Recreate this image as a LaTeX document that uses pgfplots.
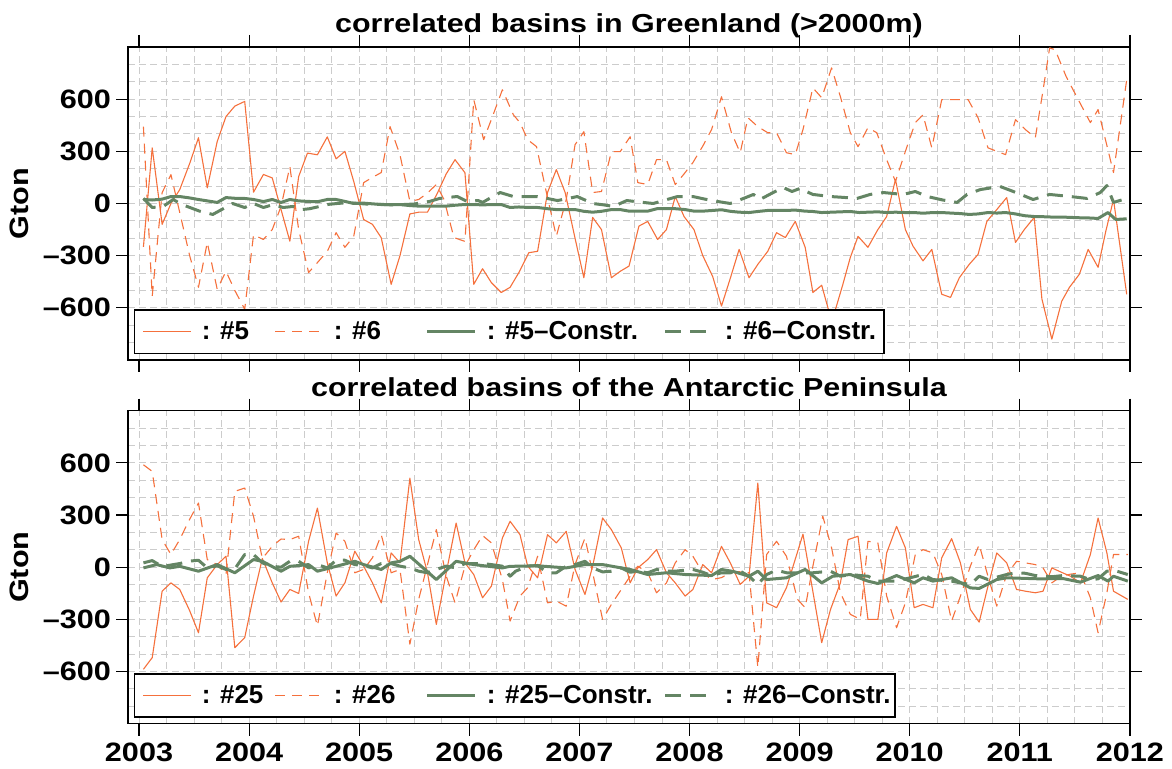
\documentclass[border=0pt]{standalone}
\usepackage{fontspec}
\usepackage{pgfplots}
\pgfplotsset{compat=1.18}
\setmainfont{Liberation Sans}
\newfontfamily\widesans{Liberation Sans}[FakeStretch=1.15]
\newfontfamily\titlesans{Liberation Sans}[FakeStretch=1.17]
\newcommand\tickfont{\widesans\bfseries\fontsize{13.3}{16}\selectfont}
\newcommand\titlefont{\titlesans\bfseries\fontsize{13}{16}\selectfont}
\newcommand\legfont{\normalfont\bfseries\fontsize{13}{15}\selectfont}

\definecolor{corg}{RGB}{245,112,60}
\definecolor{cgrn}{RGB}{100,133,100}

\pgfplotsset{
  panel/.style={
    scale only axis, width=501pt, height=156.5pt,
    xmin=2002.9, xmax=2012, ymin=-900, ymax=900,
    xtick={2003,...,2012},
    ytick={-600,-300,0,300,600},
    yticklabels={–600,–300,0,300,600},
    minor xtick={2003.25,2003.5,2003.75,2004.25,2004.5,2004.75,2005.25,2005.5,2005.75,
      2006.25,2006.5,2006.75,2007.25,2007.5,2007.75,2008.25,2008.5,2008.75,
      2009.25,2009.5,2009.75,2010.25,2010.5,2010.75,2011.25,2011.5,2011.75},
    minor ytick={-800,-700,-500,-400,-200,-100,100,200,400,500,700,800},
    grid=both,
    grid style={gray!40, line width=0.5pt, dash pattern=on 3.5pt off 2pt},
    tick align=outside, tick pos=both,
    xticklabel pos=lower, yticklabel pos=left,
    major tick length=6pt, minor tick length=0pt,
    major tick style={black, line width=0.6pt},
    axis line style={black, line width=0.6pt},
    tick label style={font=\tickfont},
    yticklabel style={xshift=1pt},
    ylabel={Gton}, ylabel style={font=\tickfont},
    every axis title/.style={font=\titlefont, at={(0.5,1)}, anchor=base, yshift=7pt},
    legend columns=4,
    legend style={at={(0,0)}, anchor=south west, xshift=3pt, yshift=3pt,
      draw=black, line width=0.7pt, font=\legfont, fill=white,
      inner xsep=4pt, inner ysep=5.5pt, column sep=0pt,
      nodes={inner sep=0pt}},
    legend image code/.code={\draw[#1] (0pt,0pt) -- (24pt,0pt);},
  },
  s5/.style={color=corg, line width=0.55pt, line join=round},
  s6/.style={color=corg, line width=0.55pt, line join=round, dash pattern=on 5pt off 3.5pt},
  c5/.style={color=cgrn, line width=1.5pt, line join=round},
  c6/.style={color=cgrn, line width=1.5pt, line join=round, dash pattern=on 8pt off 4.5pt},
}

\begin{document}
\begin{tikzpicture}[font=\tickfont]
\begin{axis}[panel, name=top, xticklabels={},
  title={correlated basins in Greenland (>2000m)}]

\addplot[s5] coordinates {
(2003.04,-250)(2003.12,320)(2003.21,-120)(2003.29,0)(2003.37,80)(2003.46,230)(2003.54,378)(2003.62,90)(2003.71,356)(2003.79,500)(2003.87,560)(2003.96,587)
(2004.04,65)(2004.13,167)(2004.21,147)(2004.29,-35)(2004.37,-217)(2004.45,155)(2004.53,290)(2004.62,280)(2004.71,383)(2004.79,257)(2004.87,300)(2004.95,127)
(2005.04,-92)(2005.12,-120)(2005.20,-197)(2005.29,-465)(2005.37,-300)(2005.46,-60)(2005.54,-50)(2005.62,-50)(2005.71,60)(2005.79,170)(2005.87,252)(2005.96,177)
(2006.04,-465)(2006.12,-375)(2006.20,-455)(2006.29,-512)(2006.37,-482)(2006.45,-397)(2006.54,-283)(2006.62,-275)(2006.71,63)(2006.79,195)(2006.87,63)(2006.96,-200)
(2007.04,-427)(2007.12,-80)(2007.20,-150)(2007.29,-427)(2007.37,-390)(2007.45,-360)(2007.54,-130)(2007.62,-103)(2007.71,-207)(2007.79,-150)(2007.87,40)(2007.95,-75)
(2008.04,-150)(2008.12,-300)(2008.21,-420)(2008.29,-590)(2008.37,-430)(2008.45,-264)(2008.54,-427)(2008.62,-350)(2008.71,-275)(2008.79,-168)(2008.87,-196)(2008.96,-103)
(2009.05,-252)(2009.12,-512)(2009.20,-470)(2009.26,-608)(2009.32,-620)(2009.39,-470)(2009.46,-310)(2009.53,-189)(2009.62,-252)(2009.71,-150)(2009.79,-75)(2009.87,138)(2009.96,-150)
(2010.03,-246)(2010.12,-330)(2010.20,-264)(2010.29,-522)(2010.37,-540)(2010.45,-427)(2010.54,-350)(2010.62,-293)(2010.70,-103)(2010.79,-35)(2010.88,34)(2010.96,-224)
(2011.04,-150)(2011.13,-80)(2011.20,-550)(2011.29,-780)(2011.38,-562)(2011.45,-482)(2011.54,-407)(2011.62,-264)(2011.71,-367)(2011.78,-160)(2011.85,23)(2011.97,-522)
};
\addlegendentry{\makebox[41.5pt][l]{\hspace{5pt}: \#5}}

\addplot[s6] coordinates {
(2003.04,442)(2003.12,-533)(2003.21,63)(2003.29,166)(2003.37,-52)(2003.46,-300)(2003.54,-482)(2003.62,-224)(2003.71,-493)(2003.79,-390)(2003.87,-500)(2003.96,-608)
(2004.04,-180)(2004.13,-207)(2004.21,-150)(2004.29,-17)(2004.37,212)(2004.45,-150)(2004.54,-397)(2004.62,-340)(2004.71,-275)(2004.79,-168)(2004.87,-252)(2004.95,-189)
(2005.04,120)(2005.12,150)(2005.20,178)(2005.28,442)(2005.37,280)(2005.46,12)(2005.54,23)(2005.62,60)(2005.70,109)(2005.77,23)(2005.86,-196)(2005.96,-218)
(2006.04,597)(2006.13,367)(2006.21,500)(2006.30,654)(2006.40,510)(2006.46,465)(2006.53,367)(2006.61,327)(2006.70,63)(2006.79,-189)(2006.88,23)(2006.96,338)
(2007.04,413)(2007.12,63)(2007.20,69)(2007.29,298)(2007.37,298)(2007.46,384)(2007.53,120)(2007.62,109)(2007.70,252)(2007.79,252)(2007.87,109)(2007.95,170)
(2008.03,235)(2008.12,330)(2008.20,425)(2008.29,614)(2008.38,407)(2008.46,292)(2008.53,493)(2008.62,442)(2008.71,407)(2008.79,407)(2008.88,292)(2008.96,281)
(2009.03,425)(2009.12,665)(2009.20,608)(2009.29,780)(2009.37,614)(2009.46,407)(2009.53,327)(2009.62,436)(2009.70,407)(2009.79,252)(2009.87,127)(2009.96,300)
(2010.05,465)(2010.12,510)(2010.20,320)(2010.29,597)(2010.37,597)(2010.45,597)(2010.53,597)(2010.62,493)(2010.71,320)(2010.79,300)(2010.87,281)(2010.96,482)
(2011.05,425)(2011.14,378)(2011.21,650)(2011.27,895)(2011.32,884)(2011.42,730)(2011.53,597)(2011.64,465)(2011.71,540)(2011.85,178)(2011.97,711)
};
\addlegendentry{\makebox[51pt][l]{\hspace{5pt}: \#6}}

\addplot[c5] coordinates {
(2003.04,23)(2003.12,20)(2003.21,25)(2003.29,40)(2003.37,40)(2003.46,32)(2003.54,23)(2003.62,15)(2003.71,6)(2003.79,34)(2003.87,30)(2003.96,29)
(2004.04,23)(2004.13,11)(2004.21,23)(2004.29,6)(2004.37,23)(2004.45,15)(2004.53,12)(2004.62,10)(2004.71,23)(2004.79,23)(2004.87,12)(2004.95,0)
(2005.04,2)(2005.12,-2)(2005.20,-6)(2005.29,-6)(2005.37,-6)(2005.46,-12)(2005.54,-15)(2005.62,-15)(2005.71,-15)(2005.79,-15)(2005.87,-10)(2005.96,-6)
(2006.04,-6)(2006.12,-8)(2006.21,-6)(2006.29,-6)(2006.37,-23)(2006.45,-20)(2006.54,-23)(2006.62,-23)(2006.71,-30)(2006.79,-35)(2006.87,-35)(2006.96,-35)
(2007.04,-45)(2007.12,-50)(2007.20,-45)(2007.29,-35)(2007.37,-35)(2007.45,-44)(2007.54,-44)(2007.62,-44)(2007.71,-29)(2007.79,-30)(2007.87,-30)(2007.96,-35)
(2008.04,-44)(2008.12,-44)(2008.21,-40)(2008.29,-36)(2008.37,-45)(2008.45,-50)(2008.54,-52)(2008.62,-46)(2008.71,-40)(2008.79,-40)(2008.87,-40)(2008.96,-38)
(2009.05,-44)(2009.12,-46)(2009.20,-52)(2009.29,-50)(2009.37,-48)(2009.46,-46)(2009.54,-52)(2009.62,-50)(2009.71,-48)(2009.79,-52)(2009.87,-50)(2009.96,-52)
(2010.04,-52)(2010.12,-56)(2010.21,-52)(2010.29,-52)(2010.37,-55)(2010.46,-58)(2010.54,-63)(2010.62,-60)(2010.71,-52)(2010.79,-55)(2010.87,-52)(2010.96,-60)
(2011.04,-70)(2011.13,-75)(2011.21,-76)(2011.29,-78)(2011.38,-78)(2011.46,-80)(2011.54,-82)(2011.62,-83)(2011.71,-86)(2011.80,-52)(2011.87,-92)(2011.97,-88)
};
\addlegendentry{\makebox[93.5pt][l]{\hspace{5pt}: \#5–Constr.}}

\addplot[c6] coordinates {
(2003.04,29)(2003.12,-23)(2003.22,-17)(2003.31,23)(2003.39,-6)(2003.47,-25)(2003.55,-44)(2003.67,-63)(2003.75,-35)(2003.85,0)(2003.96,-23)
(2004.04,0)(2004.13,-23)(2004.22,-6)(2004.31,-23)(2004.40,-17)(2004.48,-35)(2004.55,-30)(2004.64,-17)(2004.72,-5)(2004.80,0)(2004.90,5)
(2005.00,0)(2005.10,-5)(2005.20,-5)(2005.30,-8)(2005.40,-6)(2005.50,-3)(2005.57,5)(2005.64,12)(2005.73,29)(2005.81,35)(2005.89,40)(2005.98,12)
(2006.08,17)(2006.12,6)(2006.20,35)(2006.28,63)(2006.40,40)(2006.50,40)(2006.61,40)(2006.70,30)(2006.80,17)(2006.89,28)(2006.98,40)
(2007.05,20)(2007.12,0)(2007.22,-8)(2007.31,-17)(2007.43,17)(2007.55,8)(2007.67,0)(2007.78,20)(2007.89,40)
(2008.03,40)(2008.14,25)(2008.25,12)(2008.37,0)(2008.49,29)(2008.58,52)(2008.64,23)(2008.75,60)(2008.85,92)(2008.93,69)
(2009.00,86)(2009.12,52)(2009.28,40)(2009.40,35)(2009.52,29)(2009.64,52)(2009.76,63)(2009.94,52)
(2010.05,69)(2010.16,40)(2010.30,20)(2010.43,6)(2010.52,52)(2010.64,80)(2010.82,98)(2010.94,69)
(2011.12,23)(2011.27,52)(2011.46,40)(2011.61,29)(2011.73,63)(2011.79,103)(2011.85,6)(2011.97,29)
};
\addlegendentry{\makebox[80.5pt][l]{\hspace{5pt}: \#6–Constr.}}
\end{axis}

\begin{axis}[panel, name=bot, at={(top.south west)}, anchor=north west, yshift=-25.35pt,
  xticklabels={2003,2004,2005,2006,2007,2008,2009,2010,2011,2012},
  title={correlated basins of the Antarctic Peninsula}]

\addplot[s5] coordinates {
(2003.04,-587)(2003.12,-520)(2003.21,-138)(2003.29,-90)(2003.37,-128)(2003.46,-250)(2003.54,-377)(2003.62,-61)(2003.71,15)(2003.79,63)(2003.87,-463)(2003.96,-405)
(2004.04,-166)(2004.12,50)(2004.21,-90)(2004.29,-200)(2004.37,-128)(2004.45,-151)(2004.54,149)(2004.62,340)(2004.71,25)(2004.79,-166)(2004.87,-90)(2004.96,92)
(2005.04,6)(2005.12,-90)(2005.20,-205)(2005.29,82)(2005.37,25)(2005.46,512)(2005.54,159)(2005.62,-32)(2005.70,-329)(2005.79,-32)(2005.88,254)(2005.96,25)
(2006.04,-42)(2006.12,-176)(2006.20,-109)(2006.30,168)(2006.37,264)(2006.46,187)(2006.53,6)(2006.62,-61)(2006.71,187)(2006.79,140)(2006.88,206)(2006.96,-13)
(2007.05,-157)(2007.12,6)(2007.21,283)(2007.29,216)(2007.38,111)(2007.46,-90)(2007.53,-4)(2007.62,44)(2007.70,101)(2007.79,-32)(2007.87,-90)(2007.96,-166)
(2008.03,-128)(2008.12,15)(2008.20,-32)(2008.29,120)(2008.37,25)(2008.46,-99)(2008.54,-52)(2008.62,484)(2008.70,-205)(2008.79,-233)(2008.88,-118)
(2009.03,190)(2009.20,-434)(2009.28,-243)(2009.37,-90)(2009.44,159)(2009.53,178)(2009.62,-300)(2009.71,-300)(2009.79,82)(2009.88,235)(2009.96,111)
(2010.04,-233)(2010.12,-214)(2010.21,-233)(2010.29,54)(2010.38,164)(2010.46,25)(2010.55,-243)(2010.63,-316)(2010.71,-109)(2010.79,82)(2010.88,25)(2010.97,-128)
(2011.05,-138)(2011.14,-147)(2011.21,-138)(2011.29,-4)(2011.38,-30)(2011.46,-52)(2011.55,-90)(2011.64,73)(2011.71,283)(2011.79,82)(2011.85,-138)(2011.98,-185)
};
\addlegendentry{\makebox[41.5pt][l]{\hspace{5pt}: \#25}}

\addplot[s6] coordinates {
(2003.04,589)(2003.12,551)(2003.21,159)(2003.29,73)(2003.37,159)(2003.45,264)(2003.54,369)(2003.62,44)(2003.71,15)(2003.79,-42)(2003.87,436)(2003.96,455)
(2004.04,293)(2004.12,50)(2004.21,120)(2004.29,162)(2004.37,159)(2004.45,178)(2004.54,-147)(2004.62,-338)(2004.71,-32)(2004.79,197)(2004.87,149)(2004.96,-32)
(2005.04,-13)(2005.12,54)(2005.20,187)(2005.29,-32)(2005.37,-13)(2005.46,-443)(2005.54,-185)(2005.70,216)(2005.79,-50)(2005.87,-205)(2005.96,6)
(2006.04,100)(2006.12,182)(2006.20,140)(2006.30,-71)(2006.37,-310)(2006.46,-166)(2006.53,-118)(2006.62,63)(2006.71,-205)(2006.79,-195)(2006.88,-224)(2006.96,15)
(2007.05,168)(2007.12,-32)(2007.21,-300)(2007.29,-214)(2007.38,-128)(2007.46,-52)(2007.53,6)(2007.62,-32)(2007.70,-147)(2007.79,-90)(2007.87,25)(2007.96,101)
(2008.03,63)(2008.12,-32)(2008.20,-71)(2008.29,-60)(2008.37,-32)(2008.46,-25)(2008.54,-32)(2008.62,-577)(2008.70,73)(2008.79,149)(2008.88,63)(2008.98,-185)
(2009.05,-233)(2009.12,6)(2009.21,293)(2009.29,111)(2009.37,-147)(2009.46,-271)(2009.55,-300)(2009.62,149)(2009.71,140)(2009.79,-166)(2009.88,-348)(2009.96,-205)
(2010.05,73)(2010.12,101)(2010.21,82)(2010.29,-42)(2010.38,-310)(2010.46,-166)(2010.55,6)(2010.63,130)(2010.71,-52)(2010.79,-224)(2010.88,-42)(2010.97,34)
(2011.05,25)(2011.14,15)(2011.21,-4)(2011.29,-90)(2011.38,-50)(2011.46,-40)(2011.55,-32)(2011.64,-176)(2011.71,-377)(2011.79,-147)(2011.85,73)(2011.98,73)
};
\addlegendentry{\makebox[51pt][l]{\hspace{5pt}: \#26}}

\addplot[c5] coordinates {
(2003.04,-4)(2003.16,15)(2003.28,-4)(2003.37,5)(2003.54,-23)(2003.71,15)(2003.87,-32)(2004.04,44)(2004.12,34)(2004.29,-23)(2004.37,5)(2004.54,15)(2004.62,-23)
(2004.79,5)(2004.96,34)(2005.04,15)(2005.20,-13)(2005.29,25)(2005.37,34)(2005.46,63)(2005.70,-71)(2005.88,34)(2006.04,15)(2006.30,-4)(2006.37,5)(2006.62,8)
(2006.88,-4)(2007.05,15)(2007.21,15)(2007.46,-13)(2007.62,-42)(2007.79,-32)(2007.96,-42)(2008.20,-48)(2008.29,-13)(2008.40,-25)(2008.54,-52)(2008.62,-23)
(2008.70,-71)(2008.88,-61)(2009.05,-13)(2009.20,-90)(2009.30,-52)(2009.46,-42)(2009.62,-80)(2009.71,-94)(2009.88,-48)(2010.04,-90)(2010.12,-61)(2010.21,-80)
(2010.38,-61)(2010.55,-119)(2010.63,-122)(2010.79,-71)(2010.88,-61)(2011.18,-67)(2011.39,-65)(2011.55,-86)(2011.71,-48)(2011.80,-80)(2011.85,-52)(2011.98,-80)
};
\addlegendentry{\makebox[93.5pt][l]{\hspace{5pt}: \#25–Constr.}}

\addplot[c6] coordinates {
(2003.04,25)(2003.12,38)(2003.21,4)(2003.37,21)(2003.46,35)(2003.54,40)(2003.62,-4)(2003.71,8)(2003.79,-13)(2003.87,-10)(2003.96,73)
(2004.04,73)(2004.12,25)(2004.21,5)(2004.29,0)(2004.37,34)(2004.45,34)(2004.54,-4)(2004.62,15)(2004.71,-4)(2004.79,40)(2004.87,40)(2004.96,15)
(2005.04,10)(2005.12,-4)(2005.20,21)(2005.29,21)(2005.37,6)(2005.46,-4)(2005.54,-23)(2005.62,-32)(2005.70,-13)(2005.79,6)(2005.88,-4)(2005.96,21)
(2006.04,21)(2006.12,21)(2006.20,15)(2006.30,6)(2006.37,-52)(2006.42,-23)(2006.53,6)(2006.62,10)(2006.71,-32)(2006.79,-32)(2006.88,6)(2006.96,15)
(2007.05,34)(2007.12,-4)(2007.21,-27)(2007.29,-23)(2007.38,-4)(2007.46,-29)(2007.53,-23)(2007.62,-32)(2007.70,-13)(2007.79,-23)(2007.87,-23)(2007.96,-17)
(2008.03,-13)(2008.12,-29)(2008.20,-48)(2008.29,-32)(2008.37,-32)(2008.46,-23)(2008.54,-52)(2008.62,-99)(2008.70,-42)(2008.79,-17)(2008.88,-32)(2008.97,-32)
(2009.12,-32)(2009.28,-23)(2009.37,-52)(2009.46,-42)(2009.62,-52)(2009.71,-80)(2009.88,-80)(2010.04,-55)(2010.12,-42)(2010.21,-71)(2010.38,-80)(2010.46,-90)
(2010.55,-99)(2010.63,-52)(2010.71,-71)(2010.88,-42)(2010.97,-32)(2011.05,-35)(2011.14,-48)(2011.29,-55)(2011.39,-48)(2011.55,-52)(2011.64,-71)(2011.71,-67)
(2011.79,-23)(2011.85,-17)(2011.98,-42)
};
\addlegendentry{\makebox[86pt][l]{\hspace{5pt}: \#26–Constr.}}
\end{axis}
\pgfresetboundingbox
\path ([xshift=-64pt,yshift=23.5pt]top.north west) rectangle ([xshift=21pt,yshift=-22.5pt]bot.south east);
\end{tikzpicture}
\end{document}
